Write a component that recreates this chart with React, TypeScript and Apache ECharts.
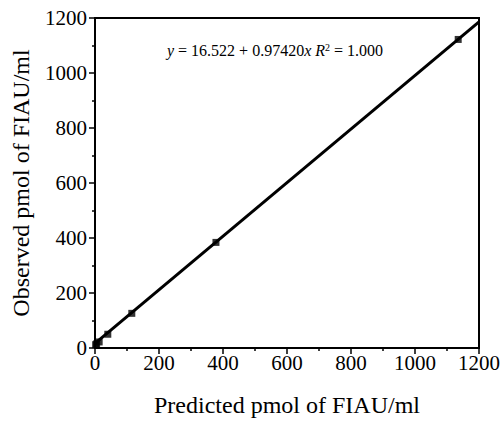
import React, { useEffect, useRef } from "react";
import * as echarts from "echarts";

const predicted = [2, 5, 13, 40, 115, 378, 1135];
const observed = [12, 15, 22, 50, 126, 384, 1122];
const fitIntercept = 16.522;
const fitSlope = 0.9742;
const fitX = [0, 1200];
const xTicks = [0, 200, 400, 600, 800, 1000, 1200];
const yTicks = [0, 200, 400, 600, 800, 1000, 1200];

const FONT = "Liberation Serif";

export default function App() {
  const ref = useRef<HTMLDivElement>(null);
  useEffect(() => {
    if (!ref.current) return;
    const chart = echarts.init(ref.current, null, { renderer: "svg" });
    const axisCommon = {
      min: 0,
      max: 1200,
      interval: 200,
      splitLine: { show: false },
      axisLine: { show: true, lineStyle: { color: "#000", width: 2 } },
      axisTick: { show: true, inside: false, length: 6, lineStyle: { color: "#000", width: 1.5 } },
      minorTick: { show: true, splitNumber: 2, length: 3, lineStyle: { color: "#000", width: 1.5 } },
      nameTextStyle: { fontFamily: FONT, fontSize: 24, color: "#000" },
    };
    chart.setOption({
      animation: false,
      backgroundColor: "#fff",
      grid: {
        left: 95,
        right: 23,
        top: 18,
        bottom: 73,
        show: true,
        borderColor: "#000",
        borderWidth: 2,
        backgroundColor: "transparent",
      },
      xAxis: {
        type: "value",
        ...axisCommon,
        name: "Predicted pmol of FIAU/ml",
        nameLocation: "middle",
        nameGap: 45,
        axisLabel: {
          margin: 4,
          fontFamily: FONT,
          fontSize: 21,
          color: "#000",
          formatter: (v: number) => (xTicks.includes(v) ? String(v) : ""),
        },
      },
      yAxis: {
        type: "value",
        ...axisCommon,
        name: "Observed pmol of FIAU/ml",
        nameLocation: "middle",
        nameGap: 62,
        axisLabel: {
          margin: 8,
          fontFamily: FONT,
          fontSize: 21,
          color: "#000",
          formatter: (v: number) => (yTicks.includes(v) ? String(v) : ""),
        },
      },
      graphic: [
        {
          type: "text",
          left: 167,
          top: 42,
          style: {
            text: "{i|y} = 16.522 + 0.97420{i|x} {i|R}{sup|2} = 1.000",
            fontFamily: FONT,
            fontSize: 16,
            fill: "#000",
            rich: {
              i: { fontFamily: FONT, fontSize: 16, fontStyle: "italic", fill: "#000" },
              sup: { fontFamily: FONT, fontSize: 10, fill: "#000", verticalAlign: "top", padding: [0, 0, 6, 0] },
            },
          },
        },
      ],
      series: [
        {
          type: "line",
          data: fitX.map((x) => [x, fitIntercept + fitSlope * x]),
          showSymbol: false,
          symbol: "none",
          lineStyle: { color: "#000", width: 3 },
          z: 2,
        },
        {
          type: "scatter",
          data: predicted.map((x, i) => [x, observed[i]]),
          symbol: "rect",
          symbolSize: 7,
          itemStyle: { color: "#000" },
          z: 3,
        },
      ],
    });
    return () => chart.dispose();
  }, []);
  return (
    <div
      ref={ref}
      style={{ position: "fixed", left: 0, top: 0, width: 503, height: 422 }}
    />
  );
}
